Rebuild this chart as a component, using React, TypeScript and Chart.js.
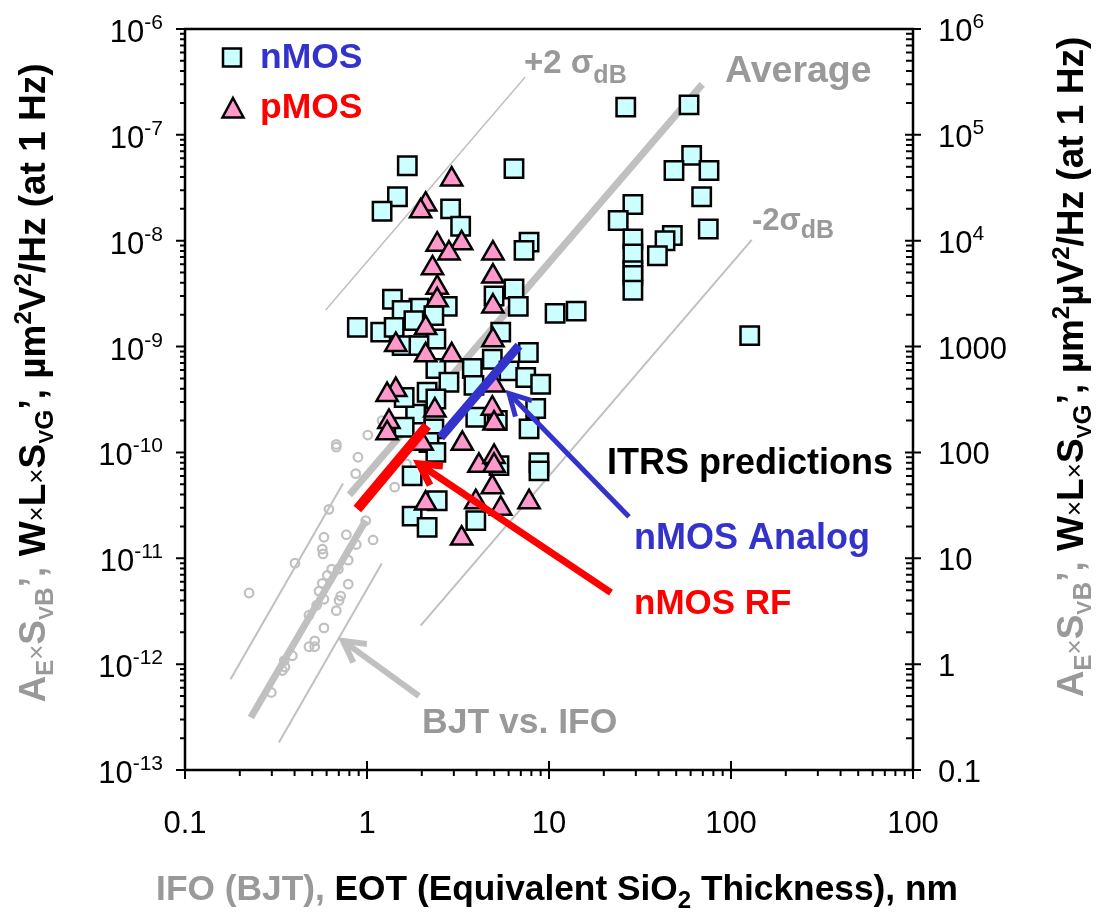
import React, { useEffect, useRef } from 'react';
import { Chart, registerables } from 'chart.js';

Chart.register(...registerables);

// ---------------- data ----------------
const nmosX = [1.665, 1.47, 1.21, 2.88, 3.27, 6.42, 7.77, 7.29, 1.38, 6.42, 6.78, 4.99, 2.76, 1.93, 2.33, 1.56, 0.885, 1.19, 1.41, 1.81, 10.8, 14.1, 5.43, 2.39, 1.56, 1.93, 7.7, 4.88, 3.79, 2.39, 6.03, 2.82, 3.87, 7.45, 9.0, 2.14, 2.39, 8.45, 1.85, 3.96, 1.6, 2.33, 2.19, 2.39, 5.2, 7.77, 5.31, 8.81, 8.81, 1.77, 2.43, 1.77, 2.14, 3.96, 1.6, 26.4, 58.8, 60.8, 48.6, 75.7, 69.0, 28.9, 24.0, 75.0, 28.9, 47.6, 43.4, 39.4, 28.9, 28.9, 28.9, 28.9, 126.7];
const nmosY = [5.1e-8, 2.6e-8, 1.9e-8, 2.0e-8, 1.37e-8, 4.8e-8, 9.7e-9, 8.1e-9, 2.8e-9, 3.5e-9, 2.4e-9, 3.0e-9, 2.4e-9, 2.3e-9, 1.96e-9, 2.2e-9, 1.52e-9, 1.37e-9, 1.52e-9, 1.76e-9, 2.06e-9, 2.16e-9, 1.37e-9, 1.18e-9, 1.02e-9, 1.02e-9, 8.8e-10, 7.6e-10, 6.2e-10, 6.2e-10, 5.9e-10, 4.6e-10, 4.3e-10, 5.1e-10, 4.4e-10, 3.7e-10, 3.2e-10, 2.6e-10, 2.3e-10, 2.15e-10, 1.73e-10, 1.67e-10, 1.24e-10, 1.0e-10, 2.0e-10, 1.67e-10, 7.5e-11, 8.0e-11, 6.7e-11, 6.0e-11, 3.5e-11, 2.5e-11, 1.96e-11, 2.27e-11, 3.3e-10, 1.83e-7, 1.92e-7, 6.4e-8, 4.6e-8, 4.6e-8, 2.6e-8, 2.2e-8, 1.55e-8, 1.29e-8, 1.04e-8, 1.12e-8, 1.0e-8, 7.2e-9, 7.5e-9, 5.2e-9, 4.7e-9, 3.4e-9, 1.27e-9];

const pmosX = [2.92, 2.1, 1.97, 2.43, 3.31, 2.82, 4.92, 2.29, 4.92, 2.43, 2.43, 4.92, 2.1, 1.44, 2.1, 2.92, 4.92, 1.44, 1.29, 2.36, 4.88, 4.99, 1.32, 1.29, 2.01, 3.34, 4.99, 4.12, 4.99, 4.99, 4.88, 3.96, 5.43, 7.77, 2.1, 3.31];
const pmosY = [3.8e-8, 2.2e-8, 1.9e-8, 9.2e-9, 9.5e-9, 7.6e-9, 7.6e-9, 5.5e-9, 4.6e-9, 3.6e-9, 2.75e-9, 2.4e-9, 1.5e-9, 1.04e-9, 8.3e-10, 8.3e-10, 1.15e-9, 3.9e-10, 3.5e-10, 2.5e-10, 2.6e-10, 4.3e-10, 1.95e-10, 1.52e-10, 1.21e-10, 1.21e-10, 1.88e-10, 7.5e-11, 9.1e-11, 7.5e-11, 4.7e-11, 3.4e-11, 2.95e-11, 3.4e-11, 3.3e-11, 1.54e-11];

const bjtX = [1.21, 1.01, 0.678, 0.678, 0.892, 0.867, 1.65, 1.42, 0.618, 0.984, 0.77, 1.08, 0.873, 0.58, 0.568, 0.573, 0.789, 0.402, 0.64, 0.696, 0.605, 0.568, 0.789, 0.545, 0.717, 0.58, 0.702, 0.529, 0.678, 0.225, 0.48, 0.58, 0.516, 0.48, 0.516, 0.389, 0.351, 0.354, 0.343, 0.298];
const bjtY = [2.0e-10, 1.46e-10, 1.19e-10, 1.12e-10, 9.0e-11, 6.3e-11, 7.8e-11, 4.7e-11, 2.9e-11, 2.27e-11, 1.67e-11, 1.49e-11, 1.35e-11, 1.58e-11, 1.22e-11, 1.1e-11, 9.6e-12, 9.0e-12, 7.9e-12, 7.9e-12, 6.9e-12, 5.8e-12, 5.7e-12, 4.9e-12, 4.4e-12, 4.1e-12, 4.0e-12, 3.6e-12, 3.2e-12, 4.7e-12, 2.9e-12, 2.2e-12, 1.66e-12, 1.46e-12, 1.46e-12, 1.2e-12, 1.08e-12, 9.4e-13, 8.7e-13, 5.4e-13];

// reference lines
const avgLineX = [0.8, 69.5];
const avgLineY = [3.97e-11, 3.0e-7];
const plus2LineX = [0.593, 7.38];
const plus2LineY = [2.22e-9, 3.5e-7];
const minus2LineX = [1.97, 130];
const minus2LineY = [2.31e-12, 1.02e-8];
const bjtAvgX = [0.23, 0.984];
const bjtAvgY = [3.13e-13, 2.27e-11];
const bjtUpX = [0.178, 0.738];
const bjtUpY = [7.2e-13, 5.1e-11];
const bjtLowX = [0.328, 1.205];
const bjtLowY = [1.82e-13, 8.95e-12];
const itrsAnalogX = [2.54, 6.84];
const itrsAnalogY = [1.39e-10, 1.02e-9];
const itrsRfX = [0.885, 2.14];
const itrsRfY = [2.92e-11, 1.79e-10];

// annotation arrows (from -> to, data units)
const arrowFromX = [27.5, 21.9, 1.93];
const arrowFromY = [2.47e-11, 4.73e-12, 5.0e-13];
const arrowToX = [6.03, 1.93, 0.738];
const arrowToY = [3.6e-10, 7.8e-11, 1.66e-12];

// ticks
const xTickValues = [0.1, 1, 10, 100, 1000];
const xTickLabels = ['0.1', '1', '10', '100', '100'];
const yTickValues = [1e-13, 1e-12, 1e-11, 1e-10, 1e-9, 1e-8, 1e-7, 1e-6];
const yTickLabels = ['10^-13', '10^-12', '10^-11', '10^-10', '10^-9', '10^-8', '10^-7', '10^-6'];
const y2TickValues = [0.1, 1, 10, 100, 1000, 1e4, 1e5, 1e6];
const y2TickLabels = ['0.1', '1', '10', '100', '1000', '10^4', '10^5', '10^6'];

// ---------------- helpers ----------------
const FONT = '"Liberation Sans", Arial, Helvetica, sans-serif';
const fnt = (size: number, bold = true) => `${bold ? 'bold ' : ''}${size}px ${FONT}`;

type Run = { t: string; size: number; bold?: boolean; color?: string; dy?: number };

function runsWidth(ctx: CanvasRenderingContext2D, runs: Run[]) {
  let w = 0;
  for (const r of runs) {
    ctx.font = fnt(r.size, r.bold !== false);
    w += ctx.measureText(r.t).width;
  }
  return w;
}

function drawRuns(ctx: CanvasRenderingContext2D, runs: Run[], x: number, y: number, align: 'left' | 'center' | 'right') {
  const w = runsWidth(ctx, runs);
  let cx = align === 'left' ? x : align === 'center' ? x - w / 2 : x - w;
  ctx.textAlign = 'left';
  ctx.textBaseline = 'alphabetic';
  for (const r of runs) {
    ctx.font = fnt(r.size, r.bold !== false);
    ctx.fillStyle = r.color || '#000';
    ctx.fillText(r.t, cx, y + (r.dy || 0));
    cx += ctx.measureText(r.t).width;
  }
}

function tickRuns(label: string, size: number, sup: number): Run[] {
  if (label.includes('^')) {
    const [b, e] = label.split('^');
    return [
      { t: b, size, bold: false },
      { t: e, size: sup, bold: false, dy: -13 },
    ];
  }
  return [{ t: label, size, bold: false }];
}

const GRAY_TXT = '#999999';
const GRAY_LINE = '#C0C0C0';
const BLUE = '#3333CC';
const RED = '#FF0000';

const pts = (xs: number[], ys: number[]) => xs.map((x, i) => ({ x, y: ys[i] }));

function titleRuns(micro: boolean): Run[] {
  const S = 37;
  const sub = 24;
  const g = GRAY_TXT;
  const k = '#000';
  const r: Run[] = [
    { t: 'A', size: S, color: g },
    { t: 'E', size: sub, color: g, dy: 8 },
    { t: '×', size: 26, bold: false, color: g },
    { t: 'S', size: S, color: g },
    { t: 'V', size: 21, color: g, dy: 8 },
    { t: 'B', size: 26, color: g, dy: 8 },
    { t: '’,', size: S, color: g },
    { t: ' W', size: S, color: k },
    { t: '×', size: 26, bold: false, color: k },
    { t: 'L', size: S, color: k },
    { t: '×', size: 26, bold: false, color: k },
    { t: 'S', size: S, color: k },
    { t: 'V', size: 21, color: k, dy: 8 },
    { t: 'G', size: 26, color: k, dy: 8 },
    { t: '’, µm', size: S, color: k },
    { t: '2', size: sub, color: k, dy: -14 },
  ];
  if (micro) r.push({ t: 'µV', size: S, color: k });
  else r.push({ t: 'V', size: S, color: k });
  r.push({ t: '2', size: sub, color: k, dy: -14 });
  r.push({ t: '/Hz (at 1 Hz)', size: S, color: k });
  return r;
}

const decorPlugin = {
  id: 'decor',
  afterDatasetsDraw(chart: any) {
    const ctx: CanvasRenderingContext2D = chart.ctx;
    const xs = chart.scales.x;
    const ys = chart.scales.y;
    const colors = [BLUE, RED, GRAY_LINE];
    const widths = [5, 7, 6];
    ctx.save();
    for (let i = 0; i < arrowFromX.length; i++) {
      const x0 = xs.getPixelForValue(arrowFromX[i]);
      const y0 = ys.getPixelForValue(arrowFromY[i]);
      const x1 = xs.getPixelForValue(arrowToX[i]);
      const y1 = ys.getPixelForValue(arrowToY[i]);
      const ang = Math.atan2(y1 - y0, x1 - x0);
      const L = 24;
      const spread = 0.5;
      ctx.strokeStyle = colors[i];
      ctx.lineWidth = widths[i];
      ctx.lineCap = 'butt';
      ctx.lineJoin = 'miter';
      ctx.beginPath();
      ctx.moveTo(x0, y0);
      ctx.lineTo(x1, y1);
      ctx.stroke();
      ctx.beginPath();
      ctx.moveTo(x1 - L * Math.cos(ang - spread), y1 - L * Math.sin(ang - spread));
      ctx.lineTo(x1, y1);
      ctx.lineTo(x1 - L * Math.cos(ang + spread), y1 - L * Math.sin(ang + spread));
      ctx.stroke();
    }
    ctx.restore();
  },
  afterDraw(chart: any) {
    const ctx: CanvasRenderingContext2D = chart.ctx;
    const xs = chart.scales.x;
    const ys = chart.scales.y;
    const y2 = chart.scales.y2;
    const { left, right, top, bottom } = chart.chartArea;
    ctx.save();

    // frame
    ctx.strokeStyle = '#000';
    ctx.lineWidth = 2.5;
    ctx.strokeRect(left, top, right - left, bottom - top);

    // ticks
    ctx.lineWidth = 2;
    ctx.beginPath();
    for (let d = -13; d <= -6; d++) {
      for (let m = 1; m <= 9; m++) {
        if (d === -6 && m > 1) break;
        const py = ys.getPixelForValue(m * Math.pow(10, d));
        ctx.moveTo(left - (m === 1 ? 9 : 5), py);
        ctx.lineTo(left, py);
      }
    }
    for (let d = -1; d <= 6; d++) {
      for (let m = 1; m <= 9; m++) {
        if (d === 6 && m > 1) break;
        const py = y2.getPixelForValue(m * Math.pow(10, d));
        if (m === 1) {
          ctx.moveTo(right - 8, py);
          ctx.lineTo(right + 8, py);
        } else {
          ctx.moveTo(right - 7, py);
          ctx.lineTo(right, py);
        }
      }
    }
    for (let d = -1; d <= 3; d++) {
      for (let m = 1; m <= 9; m++) {
        if (d === 3 && m > 1) break;
        const px = xs.getPixelForValue(m * Math.pow(10, d));
        if (m === 1) {
          ctx.moveTo(px, bottom - 9);
          ctx.lineTo(px, bottom + 9);
        } else {
          ctx.moveTo(px, bottom);
          ctx.lineTo(px, bottom + 6);
        }
      }
    }
    ctx.stroke();

    // tick labels
    yTickValues.forEach((v, i) => {
      const py = ys.getPixelForValue(v);
      drawRuns(ctx, tickRuns(yTickLabels[i], 31, 21), 163, py + 13, 'right');
    });
    y2TickValues.forEach((v, i) => {
      const py = y2.getPixelForValue(v);
      drawRuns(ctx, tickRuns(y2TickLabels[i], 31, 21), 938, py + 12, 'left');
    });
    xTickValues.forEach((v, i) => {
      const px = xs.getPixelForValue(v);
      drawRuns(ctx, tickRuns(xTickLabels[i], 31, 21), px, 833, 'center');
    });

    // x title
    drawRuns(
      ctx,
      [
        { t: 'IFO (BJT),', size: 35.3, color: GRAY_TXT },
        { t: ' EOT (Equivalent SiO', size: 35.3 },
        { t: '2', size: 24, dy: 8 },
        { t: ' Thickness), nm', size: 35.3 },
      ],
      557,
      900,
      'center'
    );

    // y titles
    ctx.save();
    ctx.translate(45, 383);
    ctx.rotate(-Math.PI / 2);
    drawRuns(ctx, titleRuns(false), 0, 0, 'center');
    ctx.restore();
    ctx.save();
    ctx.translate(1083, 367);
    ctx.rotate(-Math.PI / 2);
    drawRuns(ctx, titleRuns(true), 0, 0, 'center');
    ctx.restore();

    // legend
    ctx.fillStyle = '#CCFFFF';
    ctx.strokeStyle = '#000';
    ctx.lineWidth = 2.5;
    ctx.fillRect(223, 48.5, 18, 18);
    ctx.strokeRect(223, 48.5, 18, 18);
    ctx.beginPath();
    ctx.moveTo(233, 98);
    ctx.lineTo(243.5, 117.5);
    ctx.lineTo(222.5, 117.5);
    ctx.closePath();
    ctx.fillStyle = '#FF99CC';
    ctx.fill();
    ctx.stroke();
    drawRuns(ctx, [{ t: 'nMOS', size: 35.5, color: BLUE }], 260, 68, 'left');
    drawRuns(ctx, [{ t: 'pMOS', size: 35.5, color: RED }], 260, 118, 'left');

    // annotations
    drawRuns(
      ctx,
      [
        { t: '+2 σ', size: 33, color: GRAY_TXT },
        { t: 'dB', size: 25, color: GRAY_TXT, dy: 10 },
      ],
      524,
      73,
      'left'
    );
    drawRuns(ctx, [{ t: 'Average', size: 37.5, color: GRAY_TXT }], 725, 82, 'left');
    drawRuns(
      ctx,
      [
        { t: '-2σ', size: 31, color: GRAY_TXT },
        { t: 'dB', size: 25, color: GRAY_TXT, dy: 8 },
      ],
      752,
      230,
      'left'
    );
    drawRuns(ctx, [{ t: 'ITRS predictions', size: 36, color: '#000' }], 607, 474, 'left');
    drawRuns(ctx, [{ t: 'nMOS Analog', size: 36, color: BLUE }], 634, 549, 'left');
    drawRuns(ctx, [{ t: 'nMOS RF', size: 35, color: RED }], 634, 614, 'left');
    drawRuns(ctx, [{ t: 'BJT vs. IFO', size: 35.5, color: GRAY_TXT }], 422, 733, 'left');

    ctx.restore();
  },
};

export default function App() {
  const ref = useRef<HTMLCanvasElement | null>(null);

  useEffect(() => {
    if (!ref.current) return;
    const lineDs = (label: string, xs: number[], ys: number[], color: string, width: number, order: number) => ({
      label,
      data: pts(xs, ys),
      showLine: true,
      borderColor: color,
      borderWidth: width,
      pointRadius: 0,
      fill: false,
      order,
    });
    const chart = new Chart(ref.current, {
      type: 'scatter',
      data: {
        datasets: [
          lineDs('Average', avgLineX, avgLineY, GRAY_LINE, 7, 20),
          lineDs('+2σ', plus2LineX, plus2LineY, GRAY_LINE, 1.5, 20),
          lineDs('-2σ', minus2LineX, minus2LineY, GRAY_LINE, 2, 20),
          lineDs('BJT avg', bjtAvgX, bjtAvgY, GRAY_LINE, 7, 20),
          lineDs('BJT +2σ', bjtUpX, bjtUpY, GRAY_LINE, 2, 20),
          lineDs('BJT -2σ', bjtLowX, bjtLowY, GRAY_LINE, 2, 20),
          {
            label: 'BJT',
            data: pts(bjtX, bjtY),
            pointStyle: 'circle',
            pointRadius: 4.3,
            borderWidth: 2.2,
            borderColor: GRAY_LINE,
            backgroundColor: 'rgba(255,255,255,0)',
            order: 15,
          },
          {
            label: 'nMOS',
            data: pts(nmosX, nmosY),
            pointStyle: 'rect',
            pointRadius: 13,
            borderWidth: 2.5,
            borderColor: '#000',
            backgroundColor: '#CCFFFF',
            order: 12,
          },
          {
            label: 'pMOS',
            data: pts(pmosX, pmosY),
            pointStyle: 'triangle',
            pointRadius: 12.3,
            borderWidth: 2.5,
            borderColor: '#000',
            backgroundColor: '#FF99CC',
            order: 11,
          },
          lineDs('nMOS Analog', itrsAnalogX, itrsAnalogY, BLUE, 9, 5),
          lineDs('nMOS RF', itrsRfX, itrsRfY, RED, 10, 5),
        ],
      },
      options: {
        animation: false,
        responsive: false,
        devicePixelRatio: 1,
        layout: { padding: { top: 29, left: 0, right: 0, bottom: 0 } },
        plugins: { legend: { display: false }, tooltip: { enabled: false } },
        events: [],
        scales: {
          x: {
            type: 'logarithmic',
            position: 'bottom',
            min: 0.1,
            max: 1000,
            ticks: { display: false },
            grid: { display: false },
            border: { display: false },
            afterFit: (s: any) => {
              s.height = 146;
            },
          },
          y: {
            type: 'logarithmic',
            position: 'left',
            min: 1e-13,
            max: 1e-6,
            ticks: { display: false },
            grid: { display: false },
            border: { display: false },
            afterFit: (s: any) => {
              s.width = 185;
            },
          },
          y2: {
            type: 'logarithmic',
            position: 'right',
            min: 0.1,
            max: 1e6,
            ticks: { display: false },
            grid: { display: false },
            border: { display: false },
            afterFit: (s: any) => {
              s.width = 183;
            },
          },
        },
      } as any,
      plugins: [decorPlugin],
    });
    return () => chart.destroy();
  }, []);

  return (
    <div style={{ position: 'absolute', left: 0, top: 0, width: 1096, height: 916, background: '#fff' }}>
      <canvas ref={ref} width={1096} height={916} style={{ display: 'block', width: 1096, height: 916 }} />
    </div>
  );
}
